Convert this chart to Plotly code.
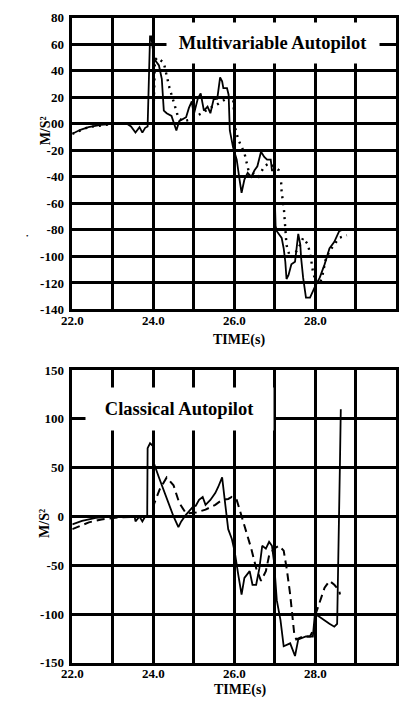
import plotly.graph_objects as go

# ---------------- data ----------------
TOP_SOLID_T = [22.0, 22.2, 22.4, 22.7, 23.0, 23.15, None, 23.35, 23.45, 23.56,
               23.66, 23.73, 23.8, 23.86, 23.92, 23.95, 24.02, 24.14, 24.21, 24.26,
               24.33, 24.45, 24.57, 24.64, 24.74, 24.81, 24.88, 24.95, 25.0, 25.1,
               25.17, 25.25, 25.34, 25.41, 25.49, 25.58, 25.65, 25.7, 25.73, 25.82,
               25.86, 25.89, 25.97, 26.06, 26.13, 26.18, 26.25, 26.33, 26.42, 26.5,
               26.57, 26.66, 26.74, 26.81, 26.9, 26.93, 26.98, 27.02, 27.05, 27.17,
               27.22, 27.26, 27.29, 27.34, 27.41, 27.5, 27.58, 27.63, 27.65, 27.7,
               27.77, 27.87, 27.99, 28.11, 28.23, 28.35, 28.47, 28.59, 28.66]
TOP_SOLID_V = [-7.5, -4.5, -2.5, -0.8, 0, 0, None, 0, -2, -6.6,
               -2.5, -6.6, -3, -2, 66, 66, 49, 44, 34, 10,
               8, 6, -5, 2, 4, 5, 12, 17, 7, 19,
               23, 10, 13, 8, 18.5, 19, 35, 32, 27, 27,
               22, -5, -17.7, -27, -42, -52, -42, -37, -40, -35,
               -32, -21, -25, -27, -27, -35, -35, -77, -81, -86,
               -94, -104, -117, -114, -106, -104, -83, -91, -101, -116,
               -131, -131, -123, -116, -106, -94, -89, -81, -80]

TOP_DOT_T = [22.0, 22.4, 23.0, 23.5, 24.0, 24.04, 24.1, 24.26, 24.4, 24.5,
             24.62, 24.75, 24.9, 25.0, 25.2, 25.4, 25.6, 25.8, 25.97, 26.02,
             26.1, 26.25, 26.35, 26.6, 26.74, 26.85, 26.98, 27.1, 27.15, 27.17,
             27.22, 27.26, 27.29, 27.38, 27.5, 27.63, 27.7, 27.82, 27.89, 27.94,
             28.0, 28.11, 28.18, 28.25, 28.35, 28.47, 28.59, 28.78]
TOP_DOT_V = [-7.5, -2.5, 0, 0, 0, 48, 50, 46, 27, 17,
             4.4, 2, 3, 5, 8, 12, 15, 19, 20, -3,
             -12, -22, -35, -40, -32, -30, -32, -35, -40, -52,
             -62, -79, -91.5, -101, -98, -91, -86, -91, -101, -111,
             -118, -121, -114, -103, -96, -91, -86, -84]

BOT_SOLID_T = [22.0, 22.24, 22.58, 22.96, 23.54, 23.56, 23.66, 23.73, 23.8, 23.85,
               23.86, 23.92, 24.0, 24.02, 24.14, 24.26, 24.38, 24.5, 24.62, 24.69,
               24.81, 24.93, 24.98, 25.05, 25.13, 25.22, 25.29, 25.41, 25.53, 25.6,
               25.7, 25.77, 25.85, 25.94, 26.01, 26.1, 26.18, 26.25, 26.38, 26.45,
               26.54, 26.62, 26.69, 26.78, 26.86, 26.93, 26.98, 27.05, 27.14, 27.22,
               27.38, 27.5, 27.58, 27.77, 27.94, 27.99, 28.11, 28.35, 28.47, 28.54,
               28.56, 28.59, 28.61, 28.63]
BOT_SOLID_V = [-8, -4.5, -1.5, 0, 0, -5, 0, -5, 0, 0,
               70, 75, 72, 54, 40, 27, 12, 0, -11, -5,
               2, 8, 10, 11, 17, 20, 12, 17, 24, 30,
               40, 15, -13, -23, -36, -60, -80, -63, -56, -70,
               -70, -53, -30, -33, -26, -30, -46, -86, -106, -133,
               -130, -143, -126, -123, -123, -100, -103, -110, -113, -110,
               -46, 24, 57, 110]

BOT_DASH_T = [22.0, 22.41, 22.72, 23.13, 23.85, 24.0, 24.02, 24.16, 24.33, 24.5,
              24.64, 24.81, 25.05, 25.29, 25.53, 25.7, 25.85, 25.94, 26.06, 26.18,
              26.3, 26.42, 26.54, 26.66, 26.78, 26.86, 26.98, 27.1, 27.22, 27.3,
              27.38, 27.43, 27.48, 27.53, 27.7, 27.87, 27.99, 28.01, 28.11, 28.23,
              28.35, 28.47, 28.59, 28.61]
BOT_DASH_V = [-13, -6, -3, -1, 0, 0, 13, 28, 40, 32,
              14, 3, 4, 7, 12, 17, 18, 20, 17, 0,
              -16, -33, -53, -66, -56, -40, -33, -30, -35, -55,
              -80, -100, -120, -126, -123, -123, -113, -100, -87, -73,
              -66, -70, -76, -80]

X_TICKS = [22, 23, 24, 25, 26, 27, 28, 29, 30]
X_TICKTEXT = ["22.0", "", "24.0", "", "26.0", "", "28.0", "", "30.0"]
TOP_Y_TICKS = [80, 60, 40, 20, 0, -20, -40, -60, -80, -100, -120, -140]
TOP_Y_TICKTEXT = ["80", "60", "40", "20", "00", "-20", "-40", "-60", "-80", "-100", "-120", "-140"]
BOT_Y_TICKS = [150, 100, 50, 0, -50, -100, -150]
BOT_Y_TICKTEXT = ["150", "100", "50", "0", "-50", "-100", "-150"]

TOP_TITLE = "Multivariable Autopilot"
BOT_TITLE = "Classical Autopilot"
X_TITLE = "TIME(s)"
Y_TITLE = "M/S²"

# ---------------- figure ----------------
W, H = 406, 709
FONT = "Liberation Serif"

def px(x):
    return x / W

def py(y):
    return 1 - y / H

def bold(lst):
    return [("<b>%s</b>" % s) if s else "" for s in lst]

fig = go.Figure()
fig.add_trace(go.Scatter(x=TOP_SOLID_T, y=TOP_SOLID_V, mode="lines", xaxis="x", yaxis="y",
                         line=dict(color="black", width=1.8), connectgaps=False))
fig.add_trace(go.Scatter(x=TOP_DOT_T, y=TOP_DOT_V, mode="lines", xaxis="x", yaxis="y",
                         line=dict(color="black", width=2.4, dash="2px,5px")))
fig.add_trace(go.Scatter(x=BOT_SOLID_T, y=BOT_SOLID_V, mode="lines", xaxis="x2", yaxis="y2",
                         line=dict(color="black", width=1.8)))
fig.add_trace(go.Scatter(x=BOT_DASH_T, y=BOT_DASH_V, mode="lines", xaxis="x2", yaxis="y2",
                         line=dict(color="black", width=2.0, dash="8px,5px")))

tickfont = dict(family=FONT, size=13, color="black")
axis_common = dict(showgrid=True, gridcolor="black", gridwidth=2.5, showline=True,
                   linecolor="black", linewidth=2.5, mirror=True, zeroline=False,
                   ticks="", tickfont=tickfont, fixedrange=True)

fig.update_layout(
    width=W, height=H, margin=dict(l=0, r=0, t=0, b=0),
    paper_bgcolor="white", plot_bgcolor="white", showlegend=False,
    xaxis=dict(domain=[px(63), px(396)], range=[22, 30], tickvals=X_TICKS,
               ticktext=bold(X_TICKTEXT), anchor="y", ticklabelstandoff=-3,
               **axis_common),
    yaxis=dict(domain=[py(309), py(11)], range=[-140, 80], tickvals=TOP_Y_TICKS,
               ticktext=bold(TOP_Y_TICKTEXT), anchor="x", ticklabelstandoff=3,
               **axis_common),
    xaxis2=dict(domain=[px(63), px(396)], range=[22, 30], tickvals=X_TICKS,
                ticktext=bold(X_TICKTEXT), anchor="y2", ticklabelstandoff=-3,
                **axis_common),
    yaxis2=dict(domain=[py(670), py(371)], range=[-150, 150], tickvals=BOT_Y_TICKS,
                ticktext=bold(BOT_Y_TICKTEXT), anchor="x2", ticklabelstandoff=3,
                **axis_common),
)

title_font = dict(family=FONT, size=18.5, color="black")
label_font = dict(family=FONT, size=14, color="black")

anns = [
    # titles in white boxes that hide the grid behind them
    dict(text="<b>%s</b>" % TOP_TITLE, x=px(269), y=py(37), font=title_font,
         bgcolor="white", width=212, height=40, borderpad=0),
    dict(text="<b>%s</b>" % BOT_TITLE, x=px(173.5), y=py(411), font=title_font,
         bgcolor="white", width=187, height=42, borderpad=0),
    dict(text="<b>%s</b>" % X_TITLE, x=px(234), y=py(340), font=label_font),
    dict(text="<b>%s</b>" % X_TITLE, x=px(235), y=py(698), font=label_font),
    dict(text="<b>%s</b>" % Y_TITLE, x=px(35), y=py(127), font=label_font, textangle=-90),
    dict(text="<b>%s</b>" % Y_TITLE, x=px(35), y=py(528), font=label_font, textangle=-90),
    dict(text="•", x=px(17), y=py(234), font=dict(family=FONT, size=7, color="black")),
]
for a in anns:
    fig.add_annotation(xref="paper", yref="paper", showarrow=False,
                       xanchor="center", yanchor="middle", **a)

fig.write_html("out.html")
